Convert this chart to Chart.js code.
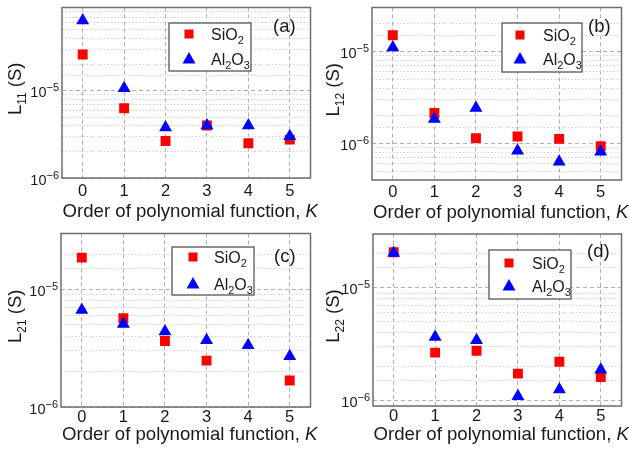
<!DOCTYPE html>
<html lang="en">
<head>
<meta charset="UTF-8">
<script src="https://cdn.jsdelivr.net/npm/chart.js"></script>
<title>L coefficients vs polynomial order</title>
<style>
  body { margin: 0; background: #fff; width: 629px; height: 452px; position: relative; overflow: hidden; }
  canvas { position: absolute; }
</style>
</head>
<body>
<canvas id="ca" width="318" height="226" style="left:0;top:0"></canvas>
<canvas id="cb" width="311" height="226" style="left:318px;top:0"></canvas>
<canvas id="cc" width="318" height="226" style="left:0;top:226px"></canvas>
<canvas id="cd" width="311" height="226" style="left:318px;top:226px"></canvas>
<script>
// order of polynomial function K
const orders = [0, 1, 2, 3, 4, 5];
const seriesNames = ['SiO2', 'Al2O3'];

// values (S)
const sio2L11 = [2.6e-5, 6.3e-6, 2.65e-6, 4.0e-6, 2.5e-6, 2.75e-6];
const al2o3L11 = [6.4e-5, 1.07e-5, 3.8e-6, 4.0e-6, 4.0e-6, 3.0e-6];
const sio2L12 = [1.5e-5, 2.14e-6, 1.14e-6, 1.19e-6, 1.12e-6, 9.3e-7];
const al2o3L12 = [1.1e-5, 1.84e-6, 2.43e-6, 8.3e-7, 6.3e-7, 8.1e-7];
const sio2L21 = [1.87e-5, 5.7e-6, 3.65e-6, 2.48e-6, null, 1.68e-6];
const al2o3L21 = [6.7e-6, 5.1e-6, 4.4e-6, 3.7e-6, 3.35e-6, 2.7e-6];
const sio2L22 = [2.07e-5, 2.67e-6, 2.78e-6, 1.74e-6, 2.22e-6, 1.62e-6];
const al2o3L22 = [2.04e-5, 3.67e-6, 3.43e-6, 1.1e-6, 1.26e-6, 1.88e-6];

// y axis ranges
const yRangeA = [1e-6, 9e-5];
const yRangeB = [4e-7, 3e-5];
const yRangeC = [1e-6, 3e-5];
const yRangeD = [9e-7, 3e-5];

const FONT = '"Liberation Sans", Arial, sans-serif';
const f = (size, style) => (style ? style + ' ' : '') + size + 'px ' + FONT;

function isDecade(v) {
  const l = Math.log10(v);
  return Math.abs(l - Math.round(l)) < 1e-6;
}

// draw a row of text pieces (normal / sub / sup) one after another
function runs(ctx, segs, x, y, align) {
  let w = 0;
  segs.forEach(s => { ctx.font = s.f; w += ctx.measureText(s.t).width; });
  let cx = align === 'center' ? x - w / 2 : align === 'right' ? x - w : x;
  ctx.textAlign = 'left';
  ctx.textBaseline = 'alphabetic';
  segs.forEach(s => {
    ctx.font = s.f;
    ctx.fillText(s.t, cx, y + (s.dy || 0));
    cx += ctx.measureText(s.t).width;
  });
}

const decor = {
  id: 'decor',
  afterDraw(chart, args, o) {
    const ctx = chart.ctx;
    const a = chart.chartArea;
    const ys = chart.scales.y;
    ctx.save();
    ctx.fillStyle = '#1a1a1a';

    // frame
    ctx.strokeStyle = '#6e6e6e';
    ctx.lineWidth = 1.5;
    ctx.strokeRect(a.left, a.top, a.right - a.left, a.bottom - a.top);

    // y tick labels 10^n
    ys.ticks.forEach(t => {
      if (!isDecade(t.value)) return;
      const py = ys.getPixelForValue(t.value);
      const e = String(Math.round(Math.log10(t.value))).replace('-', '\u2212');
      runs(ctx, [
        { t: '10', f: f(14.5) },
        { t: e, f: f(11), dy: -6 }
      ], a.left - 3, py + 6.5, 'right');
    });

    // y title
    ctx.save();
    ctx.translate(14, (a.top + a.bottom) / 2 - 4);
    ctx.rotate(-Math.PI / 2);
    runs(ctx, [
      { t: 'L', f: f(18.5) },
      { t: o.sub, f: f(12), dy: 5 },
      { t: ' (S)', f: f(18.5) }
    ], 0, 6.5, 'center');
    ctx.restore();

    // x title
    runs(ctx, [
      { t: 'Order of polynomial function, ', f: f(18.6) },
      { t: 'K', f: f(18.6, 'italic') }
    ], (a.left + a.right) / 2 + 4, a.bottom + o.titleGap + 6.6, 'center');

    // panel label
    runs(ctx, [{ t: o.tag, f: f(18.5) }], o.tagX, o.tagY + 6.6, 'left');

    // legend
    const L = o.legend;
    ctx.fillStyle = '#fff';
    ctx.fillRect(L.x0, L.y0, L.x1 - L.x0, L.y1 - L.y0);
    ctx.strokeStyle = '#555';
    ctx.lineWidth = 1.3;
    ctx.strokeRect(L.x0, L.y0, L.x1 - L.x0, L.y1 - L.y0);
    ctx.fillStyle = '#ff0000';
    ctx.fillRect(L.mx - 4.5, L.r1 - 4.5, 9, 9);
    ctx.fillStyle = '#0000ff';
    ctx.beginPath();
    ctx.moveTo(L.mx, L.r2 - 7);
    ctx.lineTo(L.mx + 6.5, L.r2 + 4.5);
    ctx.lineTo(L.mx - 6.5, L.r2 + 4.5);
    ctx.closePath();
    ctx.fill();
    ctx.fillStyle = '#1a1a1a';
    runs(ctx, [
      { t: 'SiO', f: f(16) }, { t: '2', f: f(11), dy: 4 }
    ], L.tx, L.r1 + 5.7, 'left');
    runs(ctx, [
      { t: 'Al', f: f(16) }, { t: '2', f: f(11), dy: 4 },
      { t: 'O', f: f(16) }, { t: '3', f: f(11), dy: 4 }
    ], L.tx, L.r2 + 5.7, 'left');

    ctx.restore();
  }
};

function points(vals) {
  return orders.map((k, i) => ({ x: k, y: vals[i] }));
}

function makePanel(id, sio2, al2o3, yr, g) {
  new Chart(document.getElementById(id), {
    type: 'scatter',
    data: {
      datasets: [
        {
          label: seriesNames[1],
          data: points(al2o3),
          pointStyle: 'triangle',
          pointRadius: 7.5,
          backgroundColor: '#0000ff',
          borderColor: '#0000ff',
          borderWidth: 0,
          order: 0
        },
        {
          label: seriesNames[0],
          data: points(sio2),
          pointStyle: 'rect',
          pointRadius: 7,
          backgroundColor: '#ff0000',
          borderColor: '#ff0000',
          borderWidth: 0,
          order: 1
        }
      ]
    },
    options: {
      responsive: false,
      animation: false,
      events: [],
      layout: { padding: { top: g.top, right: g.right, left: 0, bottom: 0 } },
      scales: {
        x: {
          type: 'linear',
          min: -0.5,
          max: 5.5,
          afterBuildTicks: s => { s.ticks = orders.map(v => ({ value: v })); },
          afterFit: s => { s.height = g.xh; },
          grid: { color: '#b0b0b0', lineWidth: 1, drawTicks: false },
          border: { display: false, dash: [4, 3] },
          ticks: { font: { family: FONT, size: 16.5 }, color: '#1a1a1a', padding: g.tp, maxRotation: 0 }
        },
        y: {
          type: 'logarithmic',
          min: yr[0],
          max: yr[1],
          afterFit: s => { s.width = g.yw; },
          grid: {
            drawTicks: false,
            lineWidth: 1,
            color: c => (c.tick && isDecade(c.tick.value)) ? '#b0b0b0' : '#d0d0d0'
          },
          border: {
            display: false,
            dash: c => (c.tick && isDecade(c.tick.value)) ? [4, 3] : [1.5, 2]
          },
          ticks: { display: false }
        }
      },
      plugins: {
        legend: { display: false },
        tooltip: { enabled: false },
        decor: g.decor
      }
    },
    plugins: [decor]
  });
}

makePanel('ca', sio2L11, al2o3L11, yRangeA, {
  top: 6, right: 3, xh: 48, yw: 62, tp: 4,
  decor: { sub: '11', tag: '(a)', tagX: 273, tagY: 25, titleGap: 32,
    legend: { x0: 169, y0: 23, x1: 251, y1: 71, mx: 189, r1: 34, r2: 59, tx: 211 } }
});
makePanel('cb', sio2L12, al2o3L12, yRangeB, {
  top: 6, right: 1, xh: 46, yw: 54, tp: 3,
  decor: { sub: '12', tag: '(b)', tagX: 270, tagY: 25, titleGap: 31,
    legend: { x0: 184, y0: 23, x1: 264, y1: 72, mx: 202, r1: 35, r2: 59, tx: 225 } }
});
makePanel('cc', sio2L21, al2o3L21, yRangeC, {
  top: 7, right: 3, xh: 45, yw: 61, tp: 1,
  decor: { sub: '21', tag: '(c)', tagX: 274, tagY: 29, titleGap: 26,
    legend: { x0: 172, y0: 21, x1: 254, y1: 69, mx: 193, r1: 31, r2: 58, tx: 214 } }
});
makePanel('cd', sio2L22, al2o3L22, yRangeD, {
  top: 8, right: 1, xh: 46, yw: 55, tp: 1,
  decor: { sub: '22', tag: '(d)', tagX: 269, tagY: 24, titleGap: 27,
    legend: { x0: 171, y0: 24, x1: 253, y1: 73, mx: 191, r1: 37, r2: 60, tx: 214 } }
});
</script>
</body>
</html>
